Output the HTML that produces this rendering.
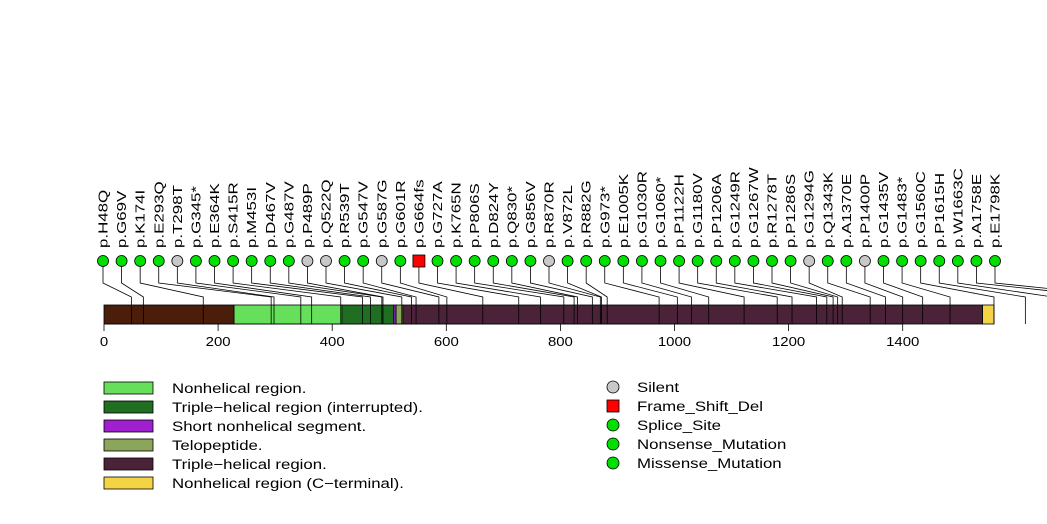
<!DOCTYPE html>
<html><head><meta charset="utf-8"><style>
html,body{margin:0;padding:0;background:#fff;}
svg{display:block;font-family:"Liberation Sans",Arial,sans-serif;}
</style></head><body>
<svg id="chart" width="1047" height="524" viewBox="0 0 1047 524" xmlns="http://www.w3.org/2000/svg">
<g id="bar"></g>
<g id="lines"></g>
<g id="axis"></g>
<g id="dots"></g>
<g id="labels"></g>
<g id="legend"></g>
</svg>
<script>
const mutLabels = ["p.H48Q","p.G69V","p.K174I","p.E293Q","p.T298T","p.G345*","p.E364K","p.S415R","p.M453I","p.D467V","p.G487V","p.P489P","p.Q522Q","p.R539T","p.G547V","p.G587G","p.G601R","p.G664fs","p.G727A","p.K765N","p.P806S","p.D824Y","p.Q830*","p.G856V","p.R870R","p.V872L","p.R882G","p.G973*","p.E1005K","p.G1030R","p.G1060*","p.P1122H","p.G1180V","p.P1206A","p.G1249R","p.G1267W","p.R1278T","p.P1286S","p.G1294G","p.Q1343K","p.A1370E","p.P1400P","p.G1435V","p.G1483*","p.G1560C","p.P1615H","p.W1663C","p.A1758E","p.E1798K"];
const mutPos = [48,69,174,293,298,345,364,415,453,467,487,489,522,539,547,587,601,664,727,765,806,824,830,856,870,872,882,973,1005,1030,1060,1122,1180,1206,1249,1267,1278,1286,1294,1343,1370,1400,1435,1483,1560,1615,1663,1758,1798];
const mutType = ["m","m","m","m","s","m","m","m","m","m","m","s","s","m","m","s","m","f","m","m","m","m","m","m","s","m","m","m","m","m","m","m","m","m","m","m","m","m","s","m","m","s","m","m","m","m","m","m","m"];
const regionStart = [0,228,417,508,512,524,1540];
const regionEnd = [228,417,508,512,524,1540,1560];
const regionColor = ["#4a1e0a","#66e05a","#1f6e22","#a020d0","#8ba55a","#4b2338","#f2d445"];
const axisTicks = [0,200,400,600,800,1000,1200,1400];
const legendRegions = ["Nonhelical region.","Triple\u2212helical region (interrupted).","Short nonhelical segment.","Telopeptide.","Triple\u2212helical region.","Nonhelical region (C\u2212terminal)."];
const legendRegionColors = ["#66e05a","#1f6e22","#a020d0","#8ba55a","#4b2338","#f2d445"];
const legendTypes = ["Silent","Frame_Shift_Del","Splice_Site","Nonsense_Mutation","Missense_Mutation"];
const legendTypeColors = ["#c8c8c8","#ff0000","#00e000","#00e000","#00e000"];

const NS="http://www.w3.org/2000/svg";
const sx = v => 104 + v*0.5705;
const dotX = i => 103 + i*(892/48);
function mk(parent, tag, attrs){const e=document.createElementNS(NS,tag);for(const k in attrs)e.setAttribute(k,attrs[k]);parent.appendChild(e);return e;}
const G = id => document.getElementById(id);
const BT=305, BB=324;

regionStart.forEach((s,i)=>{
  const r=mk(G('bar'),'rect',{x:sx(s),y:BT,width:sx(regionEnd[i])-sx(s),height:BB-BT,fill:regionColor[i],stroke:'#000','stroke-width':0.8});
  
  
});
mutPos.forEach((p,i)=>{
  const x0=dotX(i), x1=sx(p);
  const pl=mk(G('lines'),'polyline',{points:`${x0},261 ${x0},283 ${x1},297 ${x1},${BB}`,fill:'none',stroke:'#000','stroke-width':0.8});
  
  
});
mk(G('axis'),'line',{x1:sx(0),x2:sx(1400),y1:BB,y2:BB,stroke:'#000','stroke-width':0.8});
axisTicks.forEach(t=>{
  mk(G('axis'),'line',{x1:sx(t),x2:sx(t),y1:BB,y2:331,stroke:'#000','stroke-width':0.8});
  const tx=mk(G('axis'),'text',{x:0,y:0,'text-anchor':'middle','font-size':13,transform:`translate(${sx(t)},346) scale(1.15,1)`});
  tx.textContent=t;
  
  
});
mutLabels.forEach((l,i)=>{
  const x=dotX(i);
  const t=mutType[i];
  let d;
  if(t==='f'){d=mk(G('dots'),'rect',{x:x-6,y:255,width:12,height:12,fill:'#ff0000',stroke:'#000','stroke-width':0.8});}
  else{d=mk(G('dots'),'circle',{cx:x,cy:261,r:5.5,fill:t==='s'?'#c8c8c8':'#00e000',stroke:'#000','stroke-width':0.8});}
  
  
  const tx=mk(G('labels'),'text',{x:0,y:0,'font-size':13,transform:`translate(${x+4.5},248) rotate(-90) scale(1.3,1)`});
  tx.textContent=l;
  
  
});
legendRegions.forEach((n,i)=>{
  const y=388+i*19;
  const r=mk(G('legend'),'rect',{x:104,y:y-6,width:49,height:12,fill:legendRegionColors[i],stroke:'#000','stroke-width':0.8});
  
  
  const tx=mk(G('legend'),'text',{x:0,y:0,'font-size':14,transform:`translate(172,${y+5}) scale(1.2,1)`});
  tx.textContent=n;
  
  
});
legendTypes.forEach((n,i)=>{
  const y=387+i*19;
  let d;
  if(n==='Frame_Shift_Del'){d=mk(G('legend'),'rect',{x:607,y:y-6,width:12,height:12,fill:legendTypeColors[i],stroke:'#000','stroke-width':0.8});}
  else{d=mk(G('legend'),'circle',{cx:613,cy:y,r:6,fill:legendTypeColors[i],stroke:'#000','stroke-width':0.8});}
  
  
  const tx=mk(G('legend'),'text',{x:0,y:0,'font-size':14,transform:`translate(637,${y+5}) scale(1.2,1)`});
  tx.textContent=n;
  
  
});
</script>
</body></html>
